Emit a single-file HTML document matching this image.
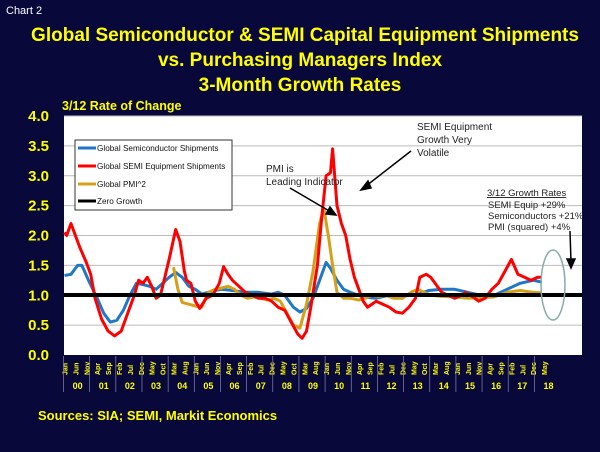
<!DOCTYPE html>
<html><head><meta charset="utf-8"><style>
html,body{margin:0;padding:0;background:#08083a;}
svg{display:block;font-family:"Liberation Sans",Arial,sans-serif;}
</style></head><body>
<svg id="s" width="600" height="452" viewBox="0 0 600 452" xmlns="http://www.w3.org/2000/svg">
<rect width="600" height="452" fill="#08083a"/>
<text x="6" y="14" fill="#fff" font-size="11">Chart 2</text>
<g fill="#ffff00" font-weight="bold" font-size="19" text-anchor="middle">
<text x="305" y="41">Global Semiconductor &amp; SEMI Capital Equipment Shipments</text>
<text x="300" y="66">vs.  Purchasing Managers Index</text>
<text x="300" y="91">3-Month Growth Rates</text>
</g>
<text x="62" y="110" fill="#ffff00" font-weight="bold" font-size="12.5">3/12 Rate of Change</text>
<rect x="64" y="116" width="518" height="239" fill="#fff"/>
<g id="grid"></g>
<g id="ylab" fill="#ffff00" font-weight="bold" font-size="15" text-anchor="end"></g>
<g id="series" fill="none" stroke-width="3" stroke-linejoin="round"></g>
<line x1="64" y1="295" x2="582" y2="295" stroke="#000" stroke-width="4"/>
<rect x="75" y="140" width="157" height="70" fill="#fff" stroke="#333" stroke-width="1"/>
<g font-size="8.2" fill="#111">
<line x1="78" y1="148" x2="96" y2="148" stroke="#1f77c8" stroke-width="3"/><text x="97" y="151">Global Semiconductor Shipments</text>
<line x1="78" y1="166" x2="96" y2="166" stroke="#f00" stroke-width="3"/><text x="97" y="169">Global SEMI Equipment Shipments</text>
<line x1="78" y1="184" x2="96" y2="184" stroke="#d4a017" stroke-width="3"/><text x="97" y="187">Global PMI^2</text>
<line x1="78" y1="201" x2="96" y2="201" stroke="#000" stroke-width="3"/><text x="97" y="204">Zero Growth</text>
</g>
<g font-size="10" fill="#222">
<text x="417" y="130">SEMI Equipment</text><text x="417" y="143">Growth Very</text><text x="417" y="156">Volatile</text>
<text x="266" y="172">PMI is</text><text x="266" y="185">Leading Indicator</text>
</g>
<g font-size="9.5" fill="#222">
<text x="487" y="196" text-decoration="underline">3/12 Growth Rates</text>
<text x="488" y="208">SEMI Equip +29%</text>
<text x="488" y="219">Semiconductors +21%</text>
<text x="488" y="230">PMI (squared) +4%</text>
</g>
<g stroke="#000" stroke-width="1.5" fill="#000">
<line x1="411" y1="151" x2="366" y2="186"/><polygon points="361,190 368,181 371,188"/>
<line x1="290" y1="188" x2="331" y2="212"/><polygon points="336,215 326,214 330,207"/>
<line x1="570" y1="231" x2="571" y2="262"/><polygon points="571,268 567,259 575,259"/>
</g>
<ellipse cx="553" cy="285" rx="12" ry="35" fill="none" stroke="#8aa" stroke-width="1.5"/>
<g id="xlab" fill="#ffff00" font-weight="bold"></g>
<text x="38" y="420" fill="#ffff00" font-weight="bold" font-size="13">Sources: SIA; SEMI, Markit Economics</text>
</svg>
<script>
var NS="http://www.w3.org/2000/svg";
function el(t,a,p,txt){var e=document.createElementNS(NS,t);for(var k in a)e.setAttribute(k,a[k]);if(txt!=null)e.textContent=txt;document.getElementById(p).appendChild(e);return e;}
function Y(v){return 355-59.75*v;}
function X(m){return 64.5+2.18*m;}
for(var i=1;i<=8;i++){var y=Y(i*0.5);el('line',{x1:64,x2:582,y1:y,y2:y,stroke:'#bbb','stroke-width':1},'grid');}
for(var i=0;i<=8;i++){el('text',{x:49,y:Y(i*0.5)+5},'ylab',(i*0.5).toFixed(1));}
var M={Jan:0,Feb:1,Mar:2,Apr:3,May:4,Jun:5,Jul:6,Aug:7,Sep:8,Oct:9,Nov:10,Dec:11};
function P(s){return s.trim().split(/,\s*/).map(function(t){var p=t.trim().split(/\s+/);var mo=M[p[0].slice(0,3)],yr=+p[0].slice(3);return [X(yr*12+mo),Y(+p[1])];});}
var red=P("Jan00 2.05,Feb00 2.0,Apr00 2.2,Jun00 2.0,Aug00 1.8,Nov00 1.55,Jan01 1.35,Mar01 0.95,Jun01 0.6,Sep01 0.4,Dec01 0.32,Mar02 0.4,Jun02 0.7,Sep02 1.0,Nov02 1.25,Jan03 1.2,Mar03 1.3,May03 1.15,Jul03 0.95,Sep03 1.0,Nov03 1.3,Jan04 1.6,Apr04 2.1,Jun04 1.9,Aug04 1.4,Sep04 1.25,Nov04 1.2,Jan05 0.9,Mar05 0.78,Jun05 0.95,Sep05 1.0,Dec05 1.2,Feb06 1.48,Apr06 1.35,Jun06 1.25,Sep06 1.15,Dec06 1.05,Mar07 1.0,Jun07 0.95,Sep07 0.95,Dec07 0.9,Mar08 0.8,Jun08 0.75,Sep08 0.55,Dec08 0.35,Feb09 0.28,Apr09 0.4,Jun09 0.8,Sep09 1.5,Nov09 2.3,Jan10 3.0,Mar10 3.05,Apr10 3.45,Jun10 2.5,Aug10 2.2,Oct10 2.0,Dec10 1.6,Feb11 1.3,Apr11 1.1,Jun11 0.9,Aug11 0.8,Oct11 0.85,Dec11 0.9,Mar12 0.85,Jun12 0.8,Sep12 0.72,Dec12 0.7,Mar13 0.8,Jun13 0.95,Aug13 1.3,Nov13 1.35,Jan14 1.3,Mar14 1.2,Jun14 1.05,Sep14 1.0,Dec14 0.95,Mar15 1.0,May15 1.05,Aug15 0.98,Nov15 0.9,Feb16 0.95,May16 1.1,Aug16 1.2,Nov16 1.4,Feb17 1.6,May17 1.35,Aug17 1.3,Nov17 1.25,Feb18 1.3,Apr18 1.3");
var blue=P("Jan00 1.33,Apr00 1.35,Jul00 1.5,Sep00 1.5,Dec00 1.25,Apr01 0.95,Jul01 0.7,Oct01 0.55,Jan02 0.58,Apr02 0.75,Jul02 1.0,Oct02 1.2,Jan03 1.18,Apr03 1.15,Jul03 1.1,Oct03 1.2,Jan04 1.3,Apr04 1.38,Jul04 1.3,Oct04 1.15,Jan05 1.1,Apr05 1.02,Jul05 1.05,Oct05 1.08,Jan06 1.1,Jun06 1.08,Dec06 1.05,Jun07 1.05,Dec07 1.02,Mar08 1.05,Jun08 1.0,Oct08 0.8,Jan09 0.72,Apr09 0.78,Jul09 0.95,Oct09 1.25,Jan10 1.55,Mar10 1.45,Jun10 1.25,Sep10 1.1,Dec10 1.05,Jun11 0.97,Dec11 0.95,Jun12 1.0,Dec12 1.0,Jun13 1.0,Dec13 1.08,Jun14 1.1,Dec14 1.1,Jun15 1.05,Dec15 1.0,Jun16 1.0,Dec16 1.1,Jun17 1.2,Dec17 1.25,Apr18 1.22");
var gold=P("Mar04 1.47,May04 1.1,Jul04 0.88,Oct04 0.85,Jan05 0.82,Apr05 0.8,Jul05 1.05,Oct05 1.1,Jan06 1.12,Apr06 1.15,Jul06 1.1,Oct06 1.0,Jan07 0.95,Apr07 0.97,Jul07 0.95,Oct07 0.92,Jan08 0.95,Apr08 0.9,Jul08 0.7,Oct08 0.5,Jan09 0.45,Apr09 0.85,Jul09 1.4,Oct09 2.2,Dec09 2.45,Feb10 2.0,Apr10 1.5,Jun10 1.05,Sep10 0.95,Dec10 0.95,Apr11 0.92,Jul11 0.95,Oct11 1.0,Jan12 0.98,Apr12 1.0,Aug12 0.95,Dec12 0.95,Apr13 1.05,Jul13 1.1,Oct13 1.05,Jan14 1.0,Jun14 0.98,Dec14 0.97,Jun15 0.95,Dec15 0.96,Jun16 0.97,Dec16 1.05,Jun17 1.08,Dec17 1.05,Apr18 1.04");
function pl(pts,c){el('polyline',{points:pts.map(function(p){return p[0].toFixed(1)+','+p[1].toFixed(1);}).join(' '),stroke:c},'series');}
pl(blue,'#1f77c8');pl(gold,'#d4a017');pl(red,'#f00');
var mn=['Jan','Feb','Mar','Apr','May','Jun','Jul','Aug','Sep','Oct','Nov','Dec'];
for(var m=0;m<=220;m+=5){var x=X(m)+3;el('text',{x:0,y:0,'font-size':7,transform:'translate('+x+',375) rotate(-90)'},'xlab',mn[m%12]);}
for(var yr=0;yr<=18;yr++){var x0=X(yr*12),x1=Math.min(X(yr*12+12),582);
el('line',{x1:x0-1,x2:x0-1,y1:356,y2:392,stroke:'#8888aa','stroke-width':0.7},'xlab');
el('text',{x:(x0+x1)/2,y:389,'font-size':9,'text-anchor':'middle'},'xlab',(yr<10?'0':'')+yr);}
</script>
</body></html>
